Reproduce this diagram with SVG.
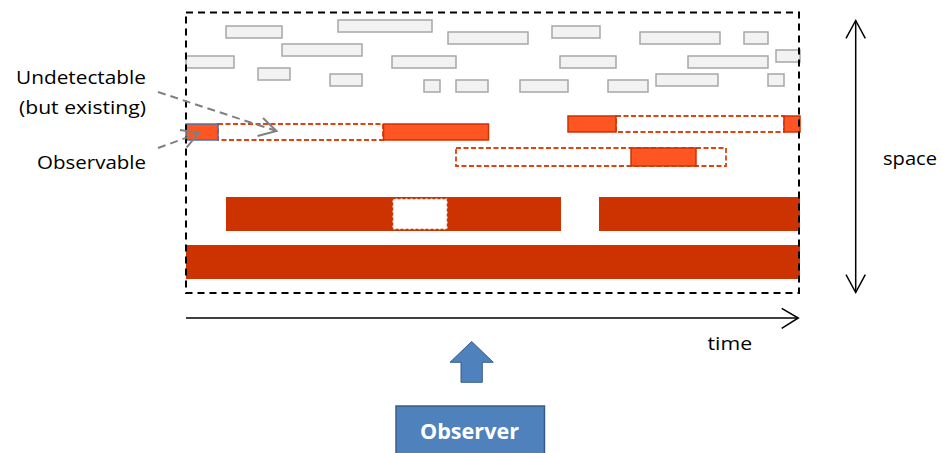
<svg xmlns="http://www.w3.org/2000/svg" width="943" height="453" viewBox="0 0 943 453">
<style>
.g{fill:#f2f2f2;stroke:#a6a6a6;stroke-width:1.5}
.o{fill:#ff5522;stroke:#cc3300;stroke-width:1.5}
.d{fill:#ffffff;stroke:#dd4411;stroke-width:1.8;stroke-dasharray:5 2.5}
.r{fill:#cc3300}
.t{font-family:"Open Sans","Liberation Sans",Arial,sans-serif;font-size:19px;fill:#000}
.ax{fill:none;stroke:#000;stroke-width:1.5}
.ga{fill:none;stroke:#808080;stroke-width:2;stroke-dasharray:8 5}
.gh{fill:none;stroke:#808080;stroke-width:2}
</style>
<rect width="943" height="453" fill="#ffffff"/>
<g id="background-items">
<rect class="g" x="226" y="26" width="56" height="12"/>
<rect class="g" x="338" y="20" width="94" height="12"/>
<rect class="g" x="448" y="32" width="80" height="12"/>
<rect class="g" x="282" y="44" width="80" height="12"/>
<rect class="g" x="186" y="56" width="48" height="12"/>
<rect class="g" x="392" y="56" width="64" height="12"/>
<rect class="g" x="258" y="68" width="32" height="12"/>
<rect class="g" x="330" y="74" width="32" height="12"/>
<rect class="g" x="424" y="80" width="16" height="12"/>
<rect class="g" x="456" y="80" width="32" height="12"/>
<rect class="g" x="552" y="26" width="48" height="12"/>
<rect class="g" x="640" y="32" width="80" height="12"/>
<rect class="g" x="744" y="32" width="24" height="12"/>
<rect class="g" x="560" y="56" width="56" height="12"/>
<rect class="g" x="688" y="56" width="80" height="12"/>
<rect class="g" x="776" y="50" width="24" height="12"/>
<rect class="g" x="520" y="80" width="48" height="12"/>
<rect class="g" x="608" y="80" width="40" height="12"/>
<rect class="g" x="656" y="74" width="62" height="12"/>
<rect class="g" x="768" y="74" width="16" height="12"/>
</g>
<g id="row1-left">
<rect class="d" x="218" y="124" width="165" height="16"/>
<rect x="186" y="124" width="32" height="16" fill="#ff5522" stroke="#4a72a8" stroke-width="1.5"/>
<rect class="o" x="383.5" y="124" width="105" height="16"/>
</g>
<g id="row1-right">
<rect class="d" x="616" y="116" width="168" height="16"/>
<rect class="o" x="568" y="116" width="48" height="16"/>
<rect class="o" x="784" y="116" width="16" height="16"/>
</g>
<g id="row2">
<rect class="d" x="456" y="148" width="270" height="18"/>
<rect class="o" x="631" y="148" width="65" height="18"/>
</g>
<g id="row3">
<rect class="r" x="226" y="197" width="335" height="34"/>
<rect x="392.5" y="198.5" width="55" height="31" fill="#ffffff" stroke="#cc3300" stroke-width="1.5" stroke-dasharray="3 2"/>
<rect class="r" x="599" y="197" width="201" height="34"/>
</g>
<g id="row4">
<rect class="r" x="186" y="245" width="614" height="34"/>
</g>
<g id="frame">
<rect x="186" y="12.5" width="613" height="280.5" fill="none" stroke="#000" stroke-width="2" stroke-dasharray="7 5"/>
</g>
<g id="connectors">
<path class="ga" d="M158 92 L275 130.5"/>
<path class="gh" d="M263 118 L276.5 131 L257.5 136"/>
<path class="ga" d="M158 148 L198 133.5"/>
<path class="gh" d="M180 130 L199 132.7 L186.7 147.3"/>
</g>
<g id="time-axis">
<path class="ax" d="M186 318 L798 318"/>
<path class="ax" d="M781.7 308.3 L798.3 318 L781.7 328.3"/>
<text class="t" x="707.5" y="350" textLength="44.6" lengthAdjust="spacingAndGlyphs">time</text>
</g>
<g id="space-axis">
<path class="ax" d="M855.7 20.5 L855.7 292.5"/>
<path class="ax" d="M846 38.3 L855.7 20.5 L865.3 38.3"/>
<path class="ax" d="M846 274.7 L855.7 292.5 L865.3 274.7"/>
<text class="t" x="883" y="165" textLength="54" lengthAdjust="spacingAndGlyphs">space</text>
</g>
<g id="labels">
<text class="t" x="146" y="84" text-anchor="end" textLength="130" lengthAdjust="spacingAndGlyphs">Undetectable</text>
<text class="t" x="146" y="113.5" text-anchor="end" textLength="127" lengthAdjust="spacingAndGlyphs">(but existing)</text>
<text class="t" x="146" y="169" text-anchor="end" textLength="109" lengthAdjust="spacingAndGlyphs">Observable</text>
</g>
<g id="observer-arrow">
<path d="M471.7 341.5 L493.3 362.3 L482.3 362.3 L482.3 382.3 L461 382.3 L461 362.3 L450 362.3 Z" fill="#4f81bd" stroke="#385d8a" stroke-width="1"/>
</g>
<g id="observer">
<rect x="396" y="406" width="148.5" height="50" fill="#4f81bd" stroke="#385d8a" stroke-width="1.5"/>
<text x="469.5" y="438.5" text-anchor="middle" font-family="Open Sans,Liberation Sans,Arial,sans-serif" font-weight="bold" font-size="21" fill="#ffffff" textLength="99" lengthAdjust="spacingAndGlyphs">Observer</text>
</g>
</svg>
